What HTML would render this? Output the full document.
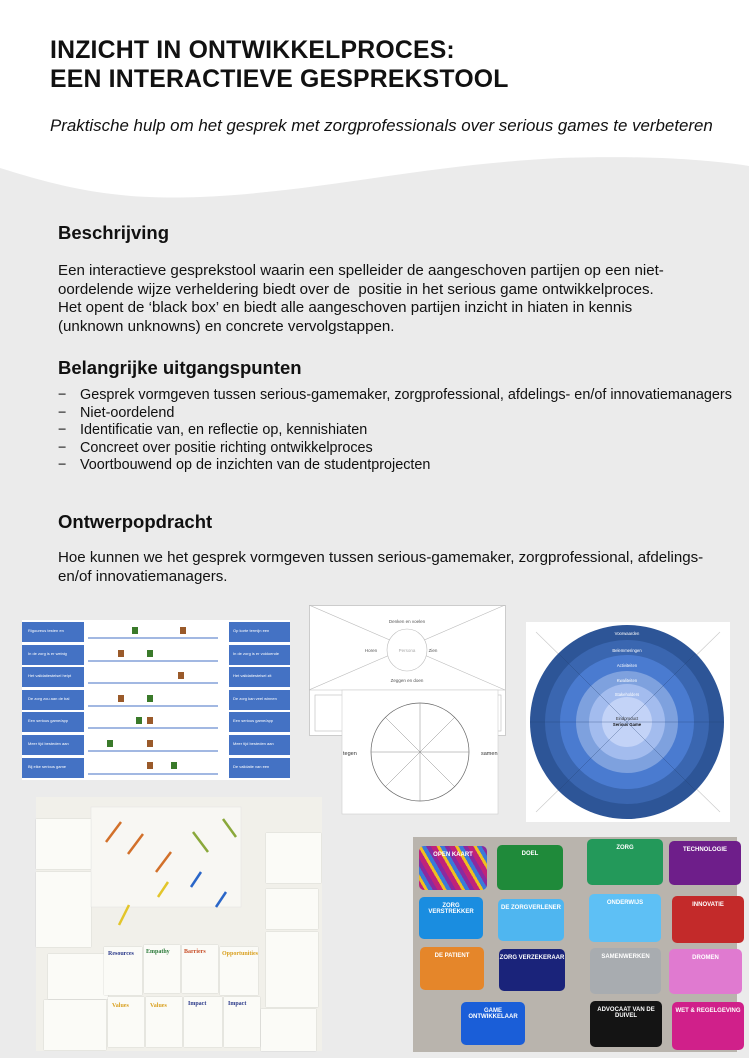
<!DOCTYPE html>
<html><head><meta charset="utf-8"><style>
*{margin:0;padding:0;box-sizing:border-box}
body{width:749px;height:1058px;position:relative;overflow:hidden;background:#fff;font-family:"Liberation Sans",Arial,sans-serif;color:#111}
.abs{position:absolute}
h1{position:absolute;left:50px;top:36px;font-size:24.8px;line-height:29px;font-weight:bold;letter-spacing:0.2px}
.sub{left:50px;top:116px;font-style:italic;font-size:16.9px}
h2{position:absolute;left:58px;font-size:18.5px;font-weight:bold}
.p{position:absolute;left:58px;font-size:15.1px;line-height:18.6px}
ul{list-style:none}
ul li{position:relative;padding-left:22px;font-size:14.4px;line-height:17.6px}
ul li:before{content:"−";position:absolute;left:0}
.card{position:absolute;border-radius:5px;color:#fff;font-size:6px;text-align:center;font-weight:bold;padding-top:6px}
.note{position:absolute;background:#fbfbf7;box-shadow:0 0 1px #bbb}
</style></head><body>
<svg class="abs" style="left:0;top:0" width="749" height="1058">
<path d="M0 168 C 70 190, 120 200, 200 197 C 320 192, 420 165, 560 158 C 650 155, 710 160, 749 166 L749 1058 L0 1058 Z" fill="#ebebeb"/>
</svg>
<h1>INZICHT IN ONTWIKKELPROCES:<br>EEN INTERACTIEVE GESPREKSTOOL</h1>
<div class="abs sub">Praktische hulp om het gesprek met zorgprofessionals over serious games te verbeteren</div>
<h2 style="top:222px">Beschrijving</h2>
<div class="p" style="top:262px">Een interactieve gesprekstool waarin een spelleider de aangeschoven partijen op een niet-<br>oordelende wijze verheldering biedt over de &nbsp;positie in het serious game ontwikkelproces.<br>Het opent de ‘black box’ en biedt alle aangeschoven partijen inzicht in hiaten in kennis<br>(unknown unknowns) en concrete vervolgstappen.</div>
<h2 style="top:357px">Belangrijke uitgangspunten</h2>
<ul class="p" style="top:387px">
<li>Gesprek vormgeven tussen serious-gamemaker, zorgprofessional, afdelings- en/of innovatiemanagers</li>
<li>Niet-oordelend</li>
<li>Identificatie van, en reflectie op, kennishiaten</li>
<li>Concreet over positie richting ontwikkelproces</li>
<li>Voortbouwend op de inzichten van de studentprojecten</li>
</ul>
<h2 style="top:511px">Ontwerpopdracht</h2>
<div class="p" style="top:549px">Hoe kunnen we het gesprek vormgeven tussen serious-gamemaker, zorgprofessional, afdelings-<br>en/of innovatiemanagers.</div>

<div class="abs" style="left:22px;top:620px;width:268px;height:160px;background:#fff"></div>
<svg class="abs" style="left:22px;top:620px" width="268" height="160">
<g fill="#4472c4">
<rect x="0" y="2" width="62" height="20"/><rect x="0" y="25" width="62" height="20"/><rect x="0" y="47" width="62" height="20"/><rect x="0" y="70" width="62" height="20"/><rect x="0" y="92" width="62" height="20"/><rect x="0" y="115" width="62" height="20"/><rect x="0" y="138" width="62" height="20"/>
<rect x="207" y="2" width="61" height="20"/><rect x="207" y="25" width="61" height="20"/><rect x="207" y="47" width="61" height="20"/><rect x="207" y="70" width="61" height="20"/><rect x="207" y="92" width="61" height="20"/><rect x="207" y="115" width="61" height="20"/><rect x="207" y="138" width="61" height="20"/>
</g>
<g stroke="#4472c4" stroke-width="1"><line x1="66" y1="18" x2="196" y2="18"/><line x1="66" y1="41" x2="196" y2="41"/><line x1="66" y1="63" x2="196" y2="63"/><line x1="66" y1="86" x2="196" y2="86"/><line x1="66" y1="108" x2="196" y2="108"/><line x1="66" y1="131" x2="196" y2="131"/><line x1="66" y1="154" x2="196" y2="154"/></g>
<g fill="#3a7a2a"><rect x="110" y="7" width="6" height="7"/><rect x="125" y="30" width="6" height="7"/><rect x="125" y="75" width="6" height="7"/><rect x="114" y="97" width="6" height="7"/><rect x="85" y="120" width="6" height="7"/><rect x="149" y="142" width="6" height="7"/></g>
<g fill="#9a5a2a"><rect x="158" y="7" width="6" height="7"/><rect x="96" y="30" width="6" height="7"/><rect x="156" y="52" width="6" height="7"/><rect x="96" y="75" width="6" height="7"/><rect x="125" y="97" width="6" height="7"/><rect x="125" y="120" width="6" height="7"/><rect x="125" y="142" width="6" height="7"/></g>
<g fill="#fff" font-size="4" font-family="Liberation Sans"><text x="6" y="12">Rigoureus testen en</text><text x="211" y="12">Op korte termijn een</text><text x="6" y="35">In de zorg is er weinig</text><text x="211" y="35">In de zorg is er voldoende</text><text x="6" y="57">Het validatiestelsel helpt</text><text x="211" y="57">Het validatiestelsel zit</text><text x="6" y="80">De zorg zou aan de bal</text><text x="211" y="80">De zorg kan veel winnen</text><text x="6" y="102">Een serious game/app</text><text x="211" y="102">Een serious game/app</text><text x="6" y="125">Meer tijd besteden aan</text><text x="211" y="125">Meer tijd besteden aan</text><text x="6" y="148">Bij elke serious game</text><text x="211" y="148">De validatie van een</text></g>
</svg>

<svg class="abs" style="left:309px;top:605px" width="200" height="210">
<rect x="0.5" y="0.5" width="196" height="130" fill="#fff" stroke="#ccc"/>
<g stroke="#bbb" stroke-width="0.6" fill="none"><line x1="0" y1="0" x2="196" y2="85"/><line x1="196" y1="0" x2="0" y2="85"/><line x1="0" y1="85" x2="196" y2="85"/><ellipse cx="98" cy="45" rx="20" ry="21" fill="#fff"/><rect x="6" y="90" width="186" height="36"/><line x1="100" y1="90" x2="100" y2="126"/></g>
<g font-size="4.5" fill="#555" font-family="Liberation Sans" text-anchor="middle"><text x="98" y="18">Denken en voelen</text><text x="98" y="47" fill="#aaa">Persona</text><text x="62" y="47">Horen</text><text x="124" y="47">Zien</text><text x="98" y="77">Zeggen en doen</text></g>
<rect x="33" y="85" width="156" height="124" fill="#fff" stroke="#ccc" stroke-width="0.6"/>
<circle cx="111" cy="147" r="49" fill="#fff" stroke="#666" stroke-width="0.7"/>
<g stroke="#888" stroke-width="0.5"><line x1="111" y1="98" x2="111" y2="196"/><line x1="62" y1="147" x2="160" y2="147"/><line x1="76" y1="112" x2="146" y2="182"/><line x1="146" y1="112" x2="76" y2="182"/></g>
<g font-size="5.5" fill="#333" font-family="Liberation Sans"><text x="34" y="150">tegen</text><text x="172" y="150">samen</text></g>
</svg>

<svg class="abs" style="left:526px;top:622px" width="204" height="200">
<rect width="204" height="200" fill="#fff"/>
<g stroke="#ccc" stroke-width="0.7"><line x1="10" y1="10" x2="194" y2="190"/><line x1="194" y1="10" x2="10" y2="190"/></g>
<circle cx="101" cy="100" r="97" fill="#2d5597"/>
<circle cx="101" cy="100" r="82" fill="#3a66b0"/>
<circle cx="101" cy="100" r="67" fill="#4a7bd0"/>
<circle cx="101" cy="100" r="51" fill="#7ea1de"/>
<circle cx="101" cy="100" r="38" fill="#a3bcee"/>
<circle cx="101" cy="100" r="25" fill="#c3d3f7"/>
<g stroke="#223e70" stroke-width="0.5" opacity="0.6"><line x1="4" y1="100" x2="198" y2="100"/><line x1="33" y1="32" x2="169" y2="168"/><line x1="169" y1="32" x2="33" y2="168"/></g>
<g fill="#fff" font-size="4.2" font-family="Liberation Sans" text-anchor="middle"><text x="101" y="13">Voorwaarden</text><text x="101" y="30">Belemmeringen</text><text x="101" y="45">Activiteiten</text><text x="101" y="60">Kwaliteiten</text><text x="101" y="74">Stakeholders</text><text x="101" y="98" fill="#333">Eindproduct</text><text x="101" y="104" fill="#111" font-weight="bold">Serious Game</text></g>
</svg>

<div class="abs" style="left:36px;top:797px;width:286px;height:254px;background:#f1f0ea">
<div class="note" style="left:0;top:22px;width:55px;height:50px"></div>
<div class="note" style="left:0;top:75px;width:55px;height:75px"></div>
<div class="note" style="left:230px;top:36px;width:55px;height:50px"></div>
<div class="note" style="left:230px;top:92px;width:52px;height:40px"></div>
<div class="note" style="left:230px;top:135px;width:52px;height:75px"></div>
<div class="note" style="left:225px;top:212px;width:55px;height:42px"></div>
<div class="note" style="left:12px;top:157px;width:60px;height:45px"></div>
<div class="note" style="left:8px;top:203px;width:62px;height:50px"></div>
<div class="note" style="left:68px;top:150px;width:38px;height:48px"></div>
<div class="note" style="left:108px;top:148px;width:36px;height:48px"></div>
<div class="note" style="left:146px;top:148px;width:36px;height:48px"></div>
<div class="note" style="left:184px;top:150px;width:38px;height:48px"></div>
<div class="note" style="left:72px;top:200px;width:36px;height:50px"></div>
<div class="note" style="left:110px;top:200px;width:36px;height:50px"></div>
<div class="note" style="left:148px;top:200px;width:38px;height:50px"></div>
<div class="note" style="left:188px;top:200px;width:36px;height:50px"></div>
<svg class="abs" style="left:0;top:0" width="286" height="254">
<g fill="#fbfbf8" stroke="#ddd" stroke-width="0.5"><rect x="55" y="10" width="150" height="100" opacity="0.7"/></g>
<g stroke-width="2.5"><line x1="70" y1="45" x2="85" y2="25" stroke="#d2702a"/><line x1="92" y1="57" x2="107" y2="37" stroke="#d2702a"/><line x1="120" y1="75" x2="135" y2="55" stroke="#d2702a"/><line x1="172" y1="55" x2="157" y2="35" stroke="#8aa83a"/><line x1="200" y1="40" x2="187" y2="22" stroke="#8aa83a"/><line x1="122" y1="100" x2="132" y2="85" stroke="#e3c52a"/><line x1="83" y1="128" x2="93" y2="108" stroke="#e3c52a"/><line x1="155" y1="90" x2="165" y2="75" stroke="#2a66c8"/><line x1="180" y1="110" x2="190" y2="95" stroke="#2a66c8"/></g>
<g font-family="Liberation Serif" font-size="6" font-weight="bold"><text x="72" y="158" fill="#2b3a8a">Resources</text><text x="110" y="156" fill="#2b7a3a">Empathy</text><text x="148" y="156" fill="#c8502a">Barriers</text><text x="186" y="158" fill="#d9a020">Opportunities</text><text x="76" y="210" fill="#d9a020">Values</text><text x="114" y="210" fill="#d9a020">Values</text><text x="152" y="208" fill="#2b3a8a">Impact</text><text x="192" y="208" fill="#2b3a8a">Impact</text></g>
</svg>
</div>

<div class="abs" style="left:413px;top:837px;width:324px;height:215px;background:#b9b4ad">
<div class="card" style="left:6px;top:9px;width:68px;height:44px;background:repeating-linear-gradient(60deg,#c0237a 0 5px,#f0c020 5px 8px,#3a7ad8 8px 12px,#8a2aa0 12px 16px)">OPEN KAART</div>
<div class="card" style="left:84px;top:8px;width:66px;height:45px;background:#1f8a3a">DOEL</div>
<div class="card" style="left:174px;top:2px;width:76px;height:46px;background:#23995a">ZORG</div>
<div class="card" style="left:256px;top:4px;width:72px;height:44px;background:#6e1e8a">TECHNOLOGIE</div>
<div class="card" style="left:6px;top:60px;width:64px;height:42px;background:#1a8de0">ZORG VERSTREKKER</div>
<div class="card" style="left:85px;top:62px;width:66px;height:42px;background:#4fb6f0">DE ZORGVERLENER</div>
<div class="card" style="left:176px;top:57px;width:72px;height:48px;background:#5ec0f5">ONDERWIJS</div>
<div class="card" style="left:259px;top:59px;width:72px;height:47px;background:#c32a2a">INNOVATIE</div>
<div class="card" style="left:7px;top:110px;width:64px;height:43px;background:#e5862a">DE PATIENT</div>
<div class="card" style="left:86px;top:112px;width:66px;height:42px;background:#1a237a">ZORG VERZEKERAAR</div>
<div class="card" style="left:177px;top:111px;width:71px;height:46px;background:#a8acb0">SAMENWERKEN</div>
<div class="card" style="left:256px;top:112px;width:73px;height:45px;background:#e07ad0">DROMEN</div>
<div class="card" style="left:48px;top:165px;width:64px;height:43px;background:#1a5ed8">GAME ONTWIKKELAAR</div>
<div class="card" style="left:177px;top:164px;width:72px;height:46px;background:#141414">ADVOCAAT VAN DE DUIVEL</div>
<div class="card" style="left:259px;top:165px;width:72px;height:48px;background:#d0208a">WET &amp; REGELGEVING</div>
</div>
</body></html>
